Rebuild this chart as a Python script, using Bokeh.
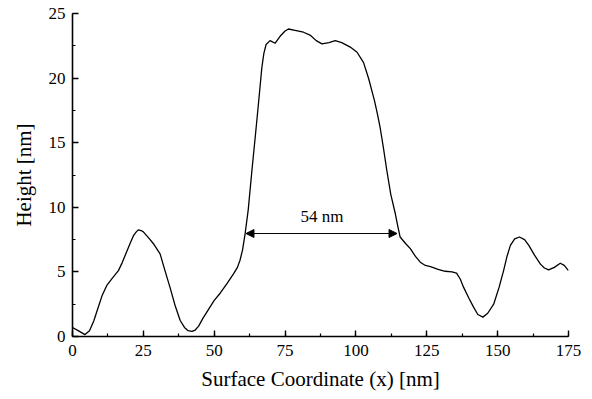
from bokeh.plotting import figure
from bokeh.models import Arrow, NormalHead, Label, SingleIntervalTicker, Range1d
from bokeh.embed import file_html
from bokeh.resources import INLINE

# Profile data
surface_x = [0, 2, 4.4, 6, 7.5, 9, 10.5, 12.1, 14, 16.2, 17.5, 19, 20.5, 21.5, 22.5, 23.2, 24.2,
             25, 27, 28.5, 30.9, 32.5, 34.4, 36.2, 38, 39.5, 40.8, 42.1, 43.3, 44.5, 46, 48,
             50, 52.1, 54.5, 56.8, 58.2, 59.1, 60, 60.9, 62, 63.3, 64.5, 65.6, 66.8, 67.5,
             68.3, 69.7, 71.5, 73.5, 75, 76.2, 78.5, 81.5, 84, 86, 88, 90.5, 92.7, 95, 98,
             100.4, 102.7, 104.5, 106.5, 107.5, 108.6, 109.7, 110.9, 112.3, 113.9, 114.8,
             115.6, 117.5, 119.2, 121, 122.7, 124.5, 126.3, 129, 131.5, 133.9, 135.5, 136.8,
             138, 140, 141.5, 143, 144.8, 146.5, 148.6, 150.5, 152.1, 153.3, 154.5, 156,
             157.7, 159.5, 161, 163, 165.1, 166.5, 168, 170, 172.1, 173.5, 175]
height_nm = [0.7, 0.45, 0.15, 0.45, 1.2, 2.2, 3.2, 3.95, 4.5, 5.1, 5.7, 6.5, 7.3, 7.8, 8.1, 8.25, 8.2,
             8.1, 7.6, 7.2, 6.4, 5.2, 3.8, 2.4, 1.24, 0.7, 0.45, 0.39, 0.5, 0.8, 1.4, 2.1,
             2.8, 3.35, 4.1, 4.85, 5.35, 5.9, 6.7, 7.95, 9.8, 12.85, 15.5, 18.0, 20.8, 21.9,
             22.6, 22.9, 22.7, 23.3, 23.65, 23.8, 23.7, 23.55, 23.3, 22.9, 22.65, 22.75, 22.9, 22.75, 22.4,
             22.0, 21.2, 19.95, 18.3, 17.3, 16.1, 14.6, 12.85, 11.0, 9.5, 8.5,
             7.7, 7.2, 6.8, 6.2, 5.75, 5.5, 5.4, 5.2, 5.05, 5.0, 4.9, 4.45,
             3.8, 2.9, 2.27, 1.7, 1.5, 1.8, 2.5, 3.8, 5.1, 6.2, 7.05, 7.55,
             7.7, 7.5, 7.05, 6.3, 5.6, 5.3, 5.15, 5.35, 5.67, 5.5, 5.1]

# Width annotation
width_start = 61.2
width_end = 114.5
width_level = 7.97
width_label = "54 nm"
width_label_x = 88
width_label_y = 9.25

x_ticks = [0, 25, 50, 75, 100, 125, 150, 175]
y_ticks = [0, 5, 10, 15, 20, 25]

FONT = "Liberation Serif"

p = figure(width=592, height=399, output_backend="svg", toolbar_location=None,
           x_range=Range1d(x_ticks[0], x_ticks[-1]), y_range=Range1d(y_ticks[0], y_ticks[-1]),
           min_border_left=72, min_border_right=24, min_border_top=13, min_border_bottom=63)
p.outline_line_color = None
p.xgrid.visible = False
p.ygrid.visible = False
p.background_fill_color = "white"
p.border_fill_color = "white"

p.line(surface_x, height_nm, line_color="black", line_width=1.3, line_join="round")

arrow = Arrow(x_start=width_start, y_start=width_level, x_end=width_end, y_end=width_level,
              line_color="black", line_width=1,
              start=NormalHead(size=8, fill_color="black", line_color="black"),
              end=NormalHead(size=8, fill_color="black", line_color="black"))
p.add_layout(arrow)
p.add_layout(Label(x=width_label_x, y=width_label_y, text=width_label, text_align="center",
                   text_baseline="middle", text_font=FONT, text_font_size="17px",
                   text_color="black"))

p.xaxis.ticker = SingleIntervalTicker(interval=25, num_minor_ticks=2)
p.yaxis.ticker = SingleIntervalTicker(interval=5, num_minor_ticks=2)
p.xaxis.axis_label = "Surface Coordinate (x) [nm]"
p.yaxis.axis_label = "Height [nm]"
for ax in (p.xaxis, p.yaxis):
    ax.axis_line_width = 1.6
    ax.axis_line_color = "black"
    ax.major_tick_in = 6
    ax.major_tick_out = 0
    ax.minor_tick_in = 3
    ax.minor_tick_out = 0
    ax.major_tick_line_width = 1.4
    ax.minor_tick_line_width = 1.2
    ax.major_tick_line_color = "black"
    ax.minor_tick_line_color = "black"
    ax.major_label_text_font = FONT
    ax.major_label_text_font_size = "17px"
    ax.major_label_text_color = "black"
    ax.axis_label_text_font = FONT
    ax.axis_label_text_font_size = "21px"
    ax.axis_label_text_font_style = "normal"
    ax.axis_label_text_color = "black"
p.xaxis.major_label_standoff = 8
p.yaxis.major_label_standoff = 7
p.xaxis.axis_label_standoff = 8
p.yaxis.axis_label_standoff = 10

open("out.html", "w").write(file_html(p, INLINE))
